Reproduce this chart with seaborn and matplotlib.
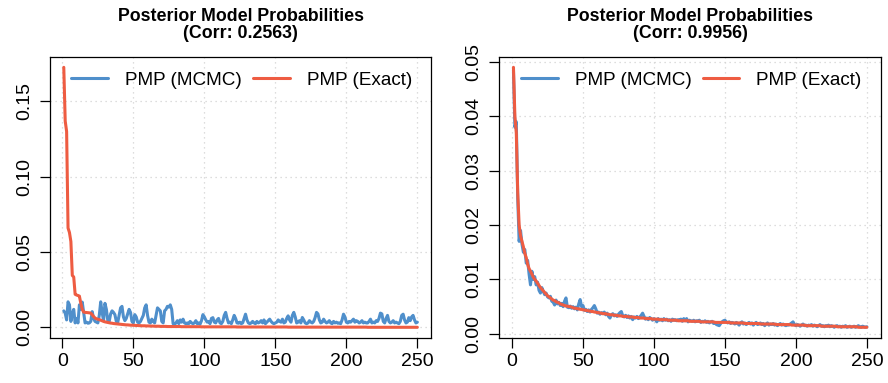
import numpy as np
import pandas as pd
import matplotlib
matplotlib.use("Agg")
import matplotlib.pyplot as plt
import seaborn as sns

titles = ["Posterior Model Probabilities\n(Corr: 0.2563)",
          "Posterior Model Probabilities\n(Corr: 0.9956)"]
series_names = ["PMP (MCMC)", "PMP (Exact)"]

mcmc_left = [
    0.0110, 0.0095, 0.0050, 0.0170, 0.0150, 0.0040, 0.0090, 0.0120, 0.0030, 0.0060,
    0.0030, 0.0150, 0.0120, 0.0168, 0.0100, 0.0030, 0.0035, 0.0028, 0.0030, 0.0040,
    0.0105, 0.0060, 0.0040, 0.0035, 0.0030, 0.0080, 0.0170, 0.0100, 0.0045, 0.0160,
    0.0120, 0.0045, 0.0040, 0.0090, 0.0110, 0.0100, 0.0085, 0.0040, 0.0033, 0.0080,
    0.0130, 0.0140, 0.0070, 0.0045, 0.0060, 0.0090, 0.0120, 0.0100, 0.0040, 0.0030,
    0.0085, 0.0070, 0.0035, 0.0030, 0.0040, 0.0060, 0.0080, 0.0130, 0.0150, 0.0080,
    0.0035, 0.0030, 0.0055, 0.0040, 0.0030, 0.0080, 0.0130, 0.0120, 0.0110, 0.0040,
    0.0030, 0.0110, 0.0120, 0.0140, 0.0135, 0.0150, 0.0120, 0.0025, 0.0020, 0.0030,
    0.0045, 0.0025, 0.0050, 0.0035, 0.0055, 0.0030, 0.0025, 0.0030, 0.0025, 0.0040,
    0.0030, 0.0025, 0.0030, 0.0045, 0.0025, 0.0030, 0.0022, 0.0045, 0.0085, 0.0070,
    0.0050, 0.0035, 0.0040, 0.0025, 0.0060, 0.0065, 0.0035, 0.0030, 0.0050, 0.0060,
    0.0030, 0.0025, 0.0040, 0.0080, 0.0100, 0.0060, 0.0030, 0.0035, 0.0025, 0.0050,
    0.0080, 0.0060, 0.0030, 0.0028, 0.0035, 0.0025, 0.0030, 0.0060, 0.0088, 0.0050,
    0.0030, 0.0025, 0.0030, 0.0040, 0.0030, 0.0025, 0.0040, 0.0030, 0.0035, 0.0045,
    0.0030, 0.0050, 0.0025, 0.0035, 0.0045, 0.0055, 0.0040, 0.0030, 0.0025, 0.0030,
    0.0035, 0.0050, 0.0040, 0.0035, 0.0055, 0.0030, 0.0035, 0.0060, 0.0077, 0.0050,
    0.0035, 0.0080, 0.0100, 0.0070, 0.0030, 0.0035, 0.0045, 0.0030, 0.0066, 0.0050,
    0.0030, 0.0025, 0.0030, 0.0045, 0.0035, 0.0030, 0.0040, 0.0065, 0.0100, 0.0090,
    0.0050, 0.0030, 0.0035, 0.0055, 0.0040, 0.0030, 0.0035, 0.0045, 0.0030, 0.0025,
    0.0040, 0.0030, 0.0035, 0.0028, 0.0030, 0.0025, 0.0050, 0.0088, 0.0070, 0.0035,
    0.0030, 0.0040, 0.0035, 0.0045, 0.0055, 0.0035, 0.0045, 0.0040, 0.0030, 0.0035,
    0.0045, 0.0030, 0.0035, 0.0030, 0.0030, 0.0040, 0.0055, 0.0030, 0.0035, 0.0030,
    0.0045, 0.0040, 0.0060, 0.0095, 0.0090, 0.0040, 0.0030, 0.0060, 0.0080, 0.0040,
    0.0030, 0.0035, 0.0045, 0.0030, 0.0035, 0.0030, 0.0025, 0.0040, 0.0080, 0.0088,
    0.0050, 0.0030, 0.0035, 0.0065, 0.0045, 0.0070, 0.0080, 0.0050, 0.0030, 0.0035,
]

exact_left = [
    0.1726, 0.1370, 0.1300, 0.0660, 0.0630, 0.0570, 0.0345, 0.0335, 0.0220, 0.0215,
    0.0212, 0.0208, 0.0160, 0.0120, 0.0102, 0.0100, 0.0099, 0.0098, 0.0097, 0.0095,
    0.0085, 0.0072, 0.0063, 0.0057, 0.0055, 0.0052, 0.0048, 0.0044, 0.0040, 0.0037,
    0.0035, 0.0033, 0.0031, 0.0029, 0.0028, 0.0026, 0.0025, 0.0024, 0.0023, 0.0022,
    0.0021, 0.0020, 0.0019, 0.0018, 0.0017, 0.0017, 0.0016, 0.0015, 0.0015, 0.0014,
    0.0014, 0.0013, 0.0013, 0.0012, 0.0012, 0.0011, 0.0011, 0.0011, 0.0010, 0.0010,
    0.0010, 0.0009, 0.0009, 0.0009, 0.0008, 0.0008, 0.0008, 0.0008, 0.0007, 0.0007,
    0.0007, 0.0007, 0.0007, 0.0006, 0.0006, 0.0006, 0.0006, 0.0006, 0.0006, 0.0006,
    0.0006, 0.0006, 0.0006, 0.0005, 0.0005, 0.0005, 0.0005, 0.0005, 0.0005, 0.0005,
    0.0005, 0.0005, 0.0005, 0.0005, 0.0005, 0.0005, 0.0005, 0.0004, 0.0004, 0.0004,
    0.0004, 0.0004, 0.0004, 0.0004, 0.0004, 0.0004, 0.0004, 0.0004, 0.0004, 0.0004,
    0.0004, 0.0004, 0.0004, 0.0004, 0.0004, 0.0004, 0.0004, 0.0004, 0.0004, 0.0004,
    0.0004, 0.0004, 0.0003, 0.0003, 0.0003, 0.0003, 0.0003, 0.0003, 0.0003, 0.0003,
    0.0003, 0.0003, 0.0003, 0.0003, 0.0003, 0.0003, 0.0003, 0.0003, 0.0003, 0.0003,
    0.0003, 0.0003, 0.0003, 0.0003, 0.0003, 0.0003, 0.0003, 0.0003, 0.0003, 0.0003,
    0.0003, 0.0003, 0.0003, 0.0003, 0.0003, 0.0003, 0.0003, 0.0003, 0.0002, 0.0002,
    0.0002, 0.0002, 0.0002, 0.0002, 0.0002, 0.0002, 0.0002, 0.0002, 0.0002, 0.0002,
    0.0002, 0.0002, 0.0002, 0.0002, 0.0002, 0.0002, 0.0002, 0.0002, 0.0002, 0.0002,
    0.0002, 0.0002, 0.0002, 0.0002, 0.0002, 0.0002, 0.0002, 0.0002, 0.0002, 0.0002,
    0.0002, 0.0002, 0.0002, 0.0002, 0.0002, 0.0002, 0.0002, 0.0002, 0.0002, 0.0002,
    0.0002, 0.0002, 0.0002, 0.0002, 0.0002, 0.0002, 0.0002, 0.0002, 0.0002, 0.0002,
    0.0002, 0.0002, 0.0002, 0.0002, 0.0001, 0.0001, 0.0001, 0.0001, 0.0001, 0.0001,
    0.0001, 0.0001, 0.0001, 0.0001, 0.0001, 0.0001, 0.0001, 0.0001, 0.0001, 0.0001,
    0.0001, 0.0001, 0.0001, 0.0001, 0.0001, 0.0001, 0.0001, 0.0001, 0.0001, 0.0001,
    0.0001, 0.0001, 0.0001, 0.0001, 0.0001, 0.0001, 0.0001, 0.0001, 0.0001, 0.0001,
]

mcmc_right = [
    0.0485, 0.0380, 0.0390, 0.0250, 0.0170, 0.0190, 0.0165, 0.0150, 0.0155, 0.0130,
    0.0135, 0.0110, 0.0090, 0.0115, 0.0100, 0.0105, 0.0090, 0.0095, 0.0080, 0.0075,
    0.0085, 0.0078, 0.0072, 0.0075, 0.0068, 0.0066, 0.0069, 0.0060, 0.0058, 0.0053,
    0.0062, 0.0055, 0.0058, 0.0052, 0.0056, 0.0050, 0.0060, 0.0066, 0.0049, 0.0048,
    0.0051, 0.0047, 0.0050, 0.0046, 0.0049, 0.0044, 0.0055, 0.0063, 0.0050, 0.0052,
    0.0043, 0.0045, 0.0041, 0.0044, 0.0040, 0.0045, 0.0048, 0.0052, 0.0046, 0.0038,
    0.0040, 0.0036, 0.0039, 0.0037, 0.0040, 0.0035, 0.0038, 0.0032, 0.0029, 0.0035,
    0.0037, 0.0033, 0.0035, 0.0032, 0.0036, 0.0039, 0.0041, 0.0033, 0.0031, 0.0034,
    0.0030, 0.0033, 0.0029, 0.0032, 0.0026, 0.0031, 0.0029, 0.0032, 0.0028, 0.0031,
    0.0034, 0.0038, 0.0032, 0.0027, 0.0029, 0.0026, 0.0030, 0.0028, 0.0025, 0.0028,
    0.0026, 0.0022, 0.0028, 0.0025, 0.0027, 0.0024, 0.0028, 0.0025, 0.0027, 0.0024,
    0.0026, 0.0023, 0.0027, 0.0025, 0.0026, 0.0024, 0.0026, 0.0025, 0.0027, 0.0023,
    0.0028, 0.0024, 0.0028, 0.0022, 0.0025, 0.0024, 0.0023, 0.0025, 0.0022, 0.0024,
    0.0023, 0.0025, 0.0021, 0.0023, 0.0022, 0.0024, 0.0021, 0.0023, 0.0020, 0.0022,
    0.0023, 0.0019, 0.0021, 0.0017, 0.0016, 0.0015, 0.0019, 0.0022, 0.0024, 0.0025,
    0.0022, 0.0020, 0.0022, 0.0019, 0.0021, 0.0020, 0.0018, 0.0021, 0.0019, 0.0016,
    0.0020, 0.0022, 0.0018, 0.0020, 0.0017, 0.0019, 0.0021, 0.0018, 0.0020, 0.0016,
    0.0019, 0.0021, 0.0017, 0.0018, 0.0020, 0.0017, 0.0019, 0.0015, 0.0018, 0.0020,
    0.0016, 0.0018, 0.0017, 0.0019, 0.0016, 0.0018, 0.0015, 0.0017, 0.0019, 0.0016,
    0.0018, 0.0016, 0.0015, 0.0017, 0.0016, 0.0018, 0.0020, 0.0022, 0.0017, 0.0015,
    0.0017, 0.0016, 0.0014, 0.0016, 0.0018, 0.0015, 0.0016, 0.0014, 0.0016, 0.0015,
    0.0017, 0.0014, 0.0016, 0.0015, 0.0013, 0.0015, 0.0017, 0.0014, 0.0015, 0.0013,
    0.0015, 0.0014, 0.0016, 0.0013, 0.0015, 0.0014, 0.0012, 0.0014, 0.0015, 0.0013,
    0.0014, 0.0012, 0.0014, 0.0013, 0.0015, 0.0012, 0.0013, 0.0014, 0.0012, 0.0013,
    0.0014, 0.0012, 0.0013, 0.0015, 0.0013, 0.0012, 0.0014, 0.0013, 0.0012, 0.0013,
]

exact_right = [
    0.0490, 0.0400, 0.0370, 0.0260, 0.0200, 0.0180, 0.0170, 0.0160, 0.0148, 0.0140,
    0.0128, 0.0120, 0.0115, 0.0110, 0.0104, 0.0100, 0.0097, 0.0093, 0.0089, 0.0085,
    0.0082, 0.0079, 0.0076, 0.0073, 0.0070, 0.0068, 0.0066, 0.0064, 0.0062, 0.0061,
    0.0059, 0.0058, 0.0057, 0.0055, 0.0054, 0.0053, 0.0052, 0.0051, 0.0051, 0.0050,
    0.0050, 0.0049, 0.0048, 0.0047, 0.0047, 0.0046, 0.0046, 0.0045, 0.0045, 0.0044,
    0.0044, 0.0043, 0.0043, 0.0042, 0.0042, 0.0041, 0.0041, 0.0040, 0.0040, 0.0039,
    0.0039, 0.0038, 0.0038, 0.0037, 0.0037, 0.0037, 0.0036, 0.0036, 0.0035, 0.0035,
    0.0035, 0.0034, 0.0034, 0.0034, 0.0033, 0.0033, 0.0033, 0.0032, 0.0032, 0.0032,
    0.0032, 0.0031, 0.0031, 0.0031, 0.0031, 0.0030, 0.0030, 0.0030, 0.0030, 0.0029,
    0.0029, 0.0029, 0.0029, 0.0028, 0.0028, 0.0028, 0.0028, 0.0028, 0.0027, 0.0027,
    0.0027, 0.0027, 0.0027, 0.0026, 0.0026, 0.0026, 0.0026, 0.0026, 0.0026, 0.0025,
    0.0025, 0.0025, 0.0025, 0.0025, 0.0025, 0.0025, 0.0024, 0.0024, 0.0024, 0.0024,
    0.0024, 0.0024, 0.0024, 0.0024, 0.0023, 0.0023, 0.0023, 0.0023, 0.0023, 0.0023,
    0.0023, 0.0023, 0.0022, 0.0022, 0.0022, 0.0022, 0.0022, 0.0022, 0.0022, 0.0022,
    0.0022, 0.0022, 0.0021, 0.0021, 0.0021, 0.0021, 0.0021, 0.0021, 0.0021, 0.0021,
    0.0021, 0.0021, 0.0021, 0.0020, 0.0020, 0.0020, 0.0020, 0.0020, 0.0020, 0.0020,
    0.0020, 0.0020, 0.0020, 0.0019, 0.0019, 0.0019, 0.0019, 0.0019, 0.0019, 0.0019,
    0.0019, 0.0019, 0.0019, 0.0019, 0.0018, 0.0018, 0.0018, 0.0018, 0.0018, 0.0018,
    0.0018, 0.0018, 0.0018, 0.0018, 0.0018, 0.0017, 0.0017, 0.0017, 0.0017, 0.0017,
    0.0017, 0.0017, 0.0017, 0.0017, 0.0017, 0.0017, 0.0016, 0.0016, 0.0016, 0.0016,
    0.0016, 0.0016, 0.0016, 0.0016, 0.0016, 0.0016, 0.0015, 0.0015, 0.0015, 0.0015,
    0.0015, 0.0015, 0.0015, 0.0015, 0.0015, 0.0015, 0.0015, 0.0014, 0.0014, 0.0014,
    0.0014, 0.0014, 0.0014, 0.0014, 0.0014, 0.0014, 0.0014, 0.0014, 0.0013, 0.0013,
    0.0013, 0.0013, 0.0013, 0.0013, 0.0013, 0.0013, 0.0013, 0.0013, 0.0013, 0.0013,
    0.0013, 0.0013, 0.0013, 0.0012, 0.0012, 0.0012, 0.0012, 0.0012, 0.0012, 0.0012,
]

x_ticks = [0, 50, 100, 150, 200, 250]
y_ticks_left = [0.00, 0.05, 0.10, 0.15]
y_ticks_right = [0.00, 0.01, 0.02, 0.03, 0.04, 0.05]

BLUE = "#4F8FCB"
RED = "#EE5C42"

sns.set_theme(style="white")
plt.rcParams["font.family"] = ["Liberation Sans", "DejaVu Sans"]
plt.rcParams["text.color"] = "black"

fig = plt.figure(figsize=(8.88, 3.83), dpi=100)
ax_pos = [[0.0559, 0.1183, 0.4300, 0.7330],
          [0.5623, 0.1183, 0.4298, 0.7330]]

panels = [(mcmc_left, exact_left, y_ticks_left),
          (mcmc_right, exact_right, y_ticks_right)]

for k, (mc, ex, yt) in enumerate(panels):
    ax = fig.add_axes(ax_pos[k])
    n = len(mc)
    df = pd.DataFrame({
        "idx": list(range(1, n + 1)) * 2,
        "pmp": list(mc) + list(ex),
        "series": [series_names[0]] * n + [series_names[1]] * n,
    })
    sns.lineplot(data=df, x="idx", y="pmp", hue="series",
                 palette={series_names[0]: BLUE, series_names[1]: RED},
                 linewidth=2.2, ax=ax, legend=False)
    lo = min(min(mc), min(ex)); hi = max(max(mc), max(ex))
    pad = 0.04 * (hi - lo)
    ax.set_ylim(lo - pad, hi + pad)
    ax.set_xlim(1 - 0.04 * (n - 1), n + 0.04 * (n - 1))
    ax.set_xticks(x_ticks)
    ax.set_yticks(yt)
    ax.set_xticklabels([str(v) for v in x_ticks])
    ax.set_yticklabels([f"{v:.2f}" for v in yt], rotation=90, va="center")
    ax.set_xlabel(""); ax.set_ylabel("")
    ax.grid(True, color="#D3D3D3", linestyle=(0, (1, 3)), linewidth=0.9)
    ax.set_axisbelow(True)
    for s in ax.spines.values():
        s.set_color("black"); s.set_linewidth(0.9); s.set_visible(True)
    ax.tick_params(axis="both", which="major", direction="out", length=7,
                   width=0.9, color="black", labelsize=14, labelcolor="black",
                   bottom=True, left=True, pad=4)
    ax.tick_params(axis="y", pad=5)
    ax.set_title(titles[k], fontsize=12.8, fontweight="bold", pad=14,
                 linespacing=0.95, color="black")
    handles = [plt.Line2D([], [], color=BLUE, lw=2.2),
               plt.Line2D([], [], color=RED, lw=2.2)]
    leg = ax.legend(handles, series_names, loc="center left", ncol=2, frameon=False,
                    fontsize=13.6, handlelength=1.95, handletextpad=0.9,
                    columnspacing=0.6, bbox_to_anchor=(0.056, 0.918),
                    borderaxespad=0, borderpad=0)
    for t in leg.get_texts():
        t.set_color("black")

fig.savefig("out.png", dpi=100)
